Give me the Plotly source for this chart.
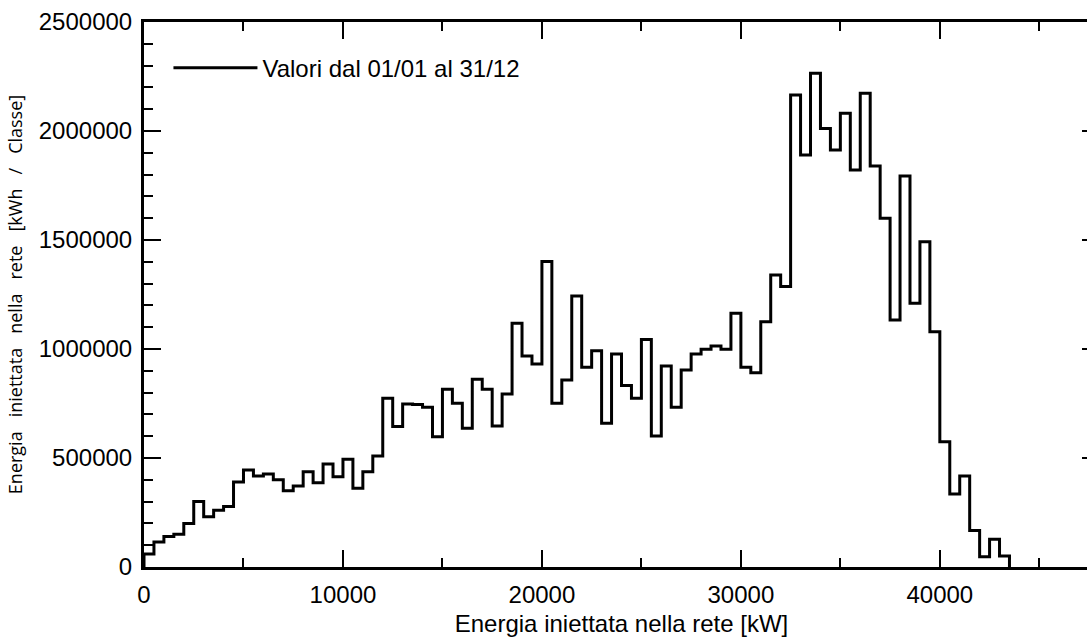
import numpy as np
import plotly.graph_objects as go

# ---- data (energy injected per 500 kW power class) ----
bin_width_kw = 500
energy_kwh = [
    60000, 115000, 140000, 150000, 200000, 300000, 230000, 260000, 277000, 390000,
    445000, 417000, 427000, 400000, 350000, 372000, 437000, 387000, 472000, 414000,
    494000, 361000, 437000, 509000, 774000, 644000, 748000, 745000, 733000, 598000,
    815000, 751000, 636000, 861000, 815000, 647000, 794000, 1118000, 968000, 931000,
    1401000, 751000, 858000, 1243000, 916000, 992000, 659000, 977000, 832000, 774000,
    1044000, 601000, 922000, 733000, 904000, 977000, 999000, 1014000, 999000, 1164000,
    916000, 891000, 1125000, 1339000, 1287000, 2165000, 1890000, 2265000, 2012000, 1913000,
    2081000, 1821000, 2173000, 1839000, 1600000, 1133000, 1794000, 1210000, 1492000, 1079000,
    575000, 335000, 417000, 167000, 47000, 127000, 50000,
]
series_name = "Valori dal 01/01 al 31/12"
x_title = "Energia iniettata nella rete [kW]"
gap = "\u00a0\u00a0\u00a0"
y_title = gap.join(["Energia", "iniettata", "nella", "rete", "[kWh", "/", "Classe]"])
x_ticks = [0, 10000, 20000, 30000, 40000]
y_ticks = [0, 500000, 1000000, 1500000, 2000000, 2500000]

bin_edges = (np.arange(len(energy_kwh) + 1) * bin_width_kw).tolist()
x_vals = [bin_edges[0]] + bin_edges
y_vals = [0] + energy_kwh + [0]

font_main = "Liberation Sans, Arial, sans-serif"
fsize = 24

fig = go.Figure()
fig.add_trace(go.Scatter(
    x=x_vals, y=y_vals, mode="lines", name=series_name,
    line=dict(color="black", width=3, shape="hv"),
))

axis_common = dict(
    showline=True, linewidth=3, linecolor="black", mirror="ticks",
    ticks="inside", ticklen=17, tickwidth=2, tickcolor="black",
    showgrid=False, zeroline=False, automargin=False,
    tickfont=dict(family=font_main, size=fsize, color="black"),
)

fig.update_layout(
    width=1110, height=637,
    margin=dict(l=144, r=11, t=22, b=70),
    paper_bgcolor="white", plot_bgcolor="white",
    showlegend=True,
    legend=dict(
        x=0.0256, y=0.9155, xanchor="left", yanchor="middle",
        bgcolor="rgba(0,0,0,0)", borderwidth=0, itemwidth=84,
        font=dict(family=font_main, size=fsize, color="black"),
    ),
    xaxis=dict(
        range=[0, 48000], tickvals=x_ticks, ticktext=[str(v) for v in x_ticks],
        ticklabelstandoff=4,
        minor=dict(ticks="inside", ticklen=9, tickwidth=2, tickcolor="black", dtick=5000, tick0=0),
        title=dict(text=x_title, font=dict(family=font_main, size=fsize, color="black"), standoff=18),
        **axis_common,
    ),
    yaxis=dict(
        range=[0, 2500000], tickvals=y_ticks, ticktext=[str(v) for v in y_ticks],
        ticklabelstandoff=4,
        minor=dict(ticks="inside", ticklen=9, tickwidth=2, tickcolor="black", dtick=100000, tick0=0),
        title=dict(text=y_title, font=dict(family="Open Sans, Noto Sans, sans-serif", size=18, color="black"), standoff=12),
        **axis_common,
    ),
)

fig.write_html(
    "out.html",
    post_script="document.body.style.overflow='hidden';document.documentElement.style.overflow='hidden';",
)
